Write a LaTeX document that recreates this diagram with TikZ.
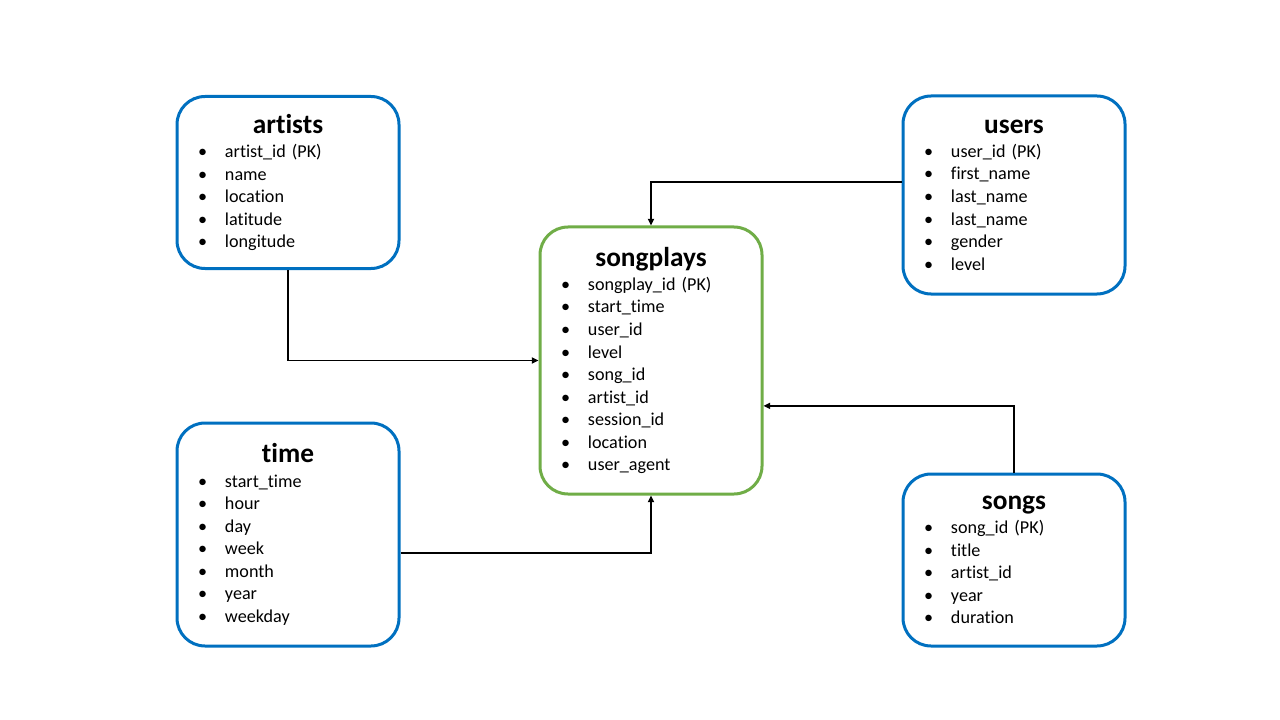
\documentclass[tikz,border=0pt]{standalone}
\usepackage{fontspec}
\setmainfont{Carlito}[Ligatures=NoCommon]
\usetikzlibrary{arrows.meta}

\definecolor{tblblue}{HTML}{0070C0}
\definecolor{tblgreen}{HTML}{70AD47}

\newcommand{\tabtitle}[1]{{\centering\fontsize{20.5}{22}\selectfont\bfseries #1\par}\vspace{1.2pt}}
\newcommand{\fld}[1]{\par\makebox[20.25pt][l]{\textbullet}#1}

\tikzset{
  tbl/.style={draw=tblblue, line width=2.25pt, rounded corners=21pt, fill=white,
    inner xsep=15.75pt, inner ysep=0pt, text width=135pt, minimum width=166.5pt,
    align=left, font=\fontsize{13.6}{16.9}\selectfont},
  facttbl/.style={tbl, draw=tblgreen},
  link/.style={line width=1.1pt, -{Triangle[length=5pt,width=4.6pt]}}
}

\begin{document}
\begin{tikzpicture}[x=0.75pt, y=-0.75pt]
        \useasboundingbox (0,0) rectangle (1280,720);

        %dimension tables
        \node[tbl, minimum height=129pt] (artists) at (288,182.5)
          {\tabtitle{artists}\fld{artist\_id (PK)}\fld{name}\fld{location}\fld{latitude}\fld{longitude}};
        \node[tbl, minimum height=148.5pt] (users) at (1014,195)
          {\tabtitle{users}\fld{user\_id (PK)}\fld{first\_name}\fld{last\_name}\fld{last\_name}\fld{gender}\fld{level}};
        \node[tbl, minimum height=167.25pt] (time) at (288,534.5)
          {\tabtitle{time}\fld{start\_time}\fld{hour}\fld{day}\fld{week}\fld{month}\fld{year}\fld{weekday}};
        \node[tbl, minimum height=129pt] (songs) at (1014,560)
          {\tabtitle{songs}\fld{song\_id (PK)}\fld{title}\fld{artist\_id}\fld{year}\fld{duration}};

        %fact table
        \node[facttbl, minimum height=200.25pt] (songplays) at (651,360.5)
          {\tabtitle{songplays}\fld{songplay\_id (PK)}\fld{start\_time}\fld{user\_id}\fld{level}\fld{song\_id}\fld{artist\_id}\fld{session\_id}\fld{location}\fld{user\_agent}};

        %arrows
        \draw[link] (artists.south) |- (songplays.west);
        \draw[link] ([yshift=9.75pt]users.west) -| (songplays.north);
        \draw[link] (songs.north) |- ([yshift=-34pt]songplays.east);
        \draw[link] ([yshift=-14pt]time.east) -| (songplays.south);
    \end{tikzpicture}
\end{document}
